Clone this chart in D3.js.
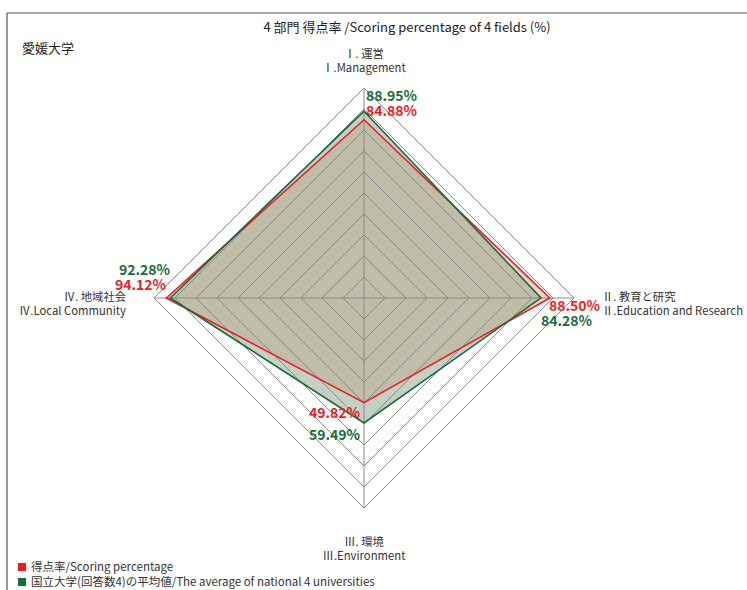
<!DOCTYPE html>
<html><head><meta charset="utf-8">
<script src="https://cdn.jsdelivr.net/npm/d3@7"></script>
<style>body{margin:0;background:#fff;} text{font-family:"Noto Sans CJK JP","Noto Sans",sans-serif;}</style>
</head><body>
<svg id="c" width="747" height="590"></svg>
<script>
const axesJa = ["Ⅰ. 運営", "Ⅱ. 教育と研究", "Ⅲ. 環境", "Ⅳ. 地域社会"];
const axesEn = ["Ⅰ.Management", "Ⅱ.Education and Research", "Ⅲ.Environment", "Ⅳ.Local Community"];
const scoring = [84.88, 88.50, 49.82, 94.12];
const average = [88.95, 84.28, 59.49, 92.28];
const ringTicks = [10,20,30,40,50,60,70,80,90,100];
const seriesNames = ["得点率/Scoring percentage", "国立大学(回答数4)の平均値/The average of national 4 universities"];
const titleText = "4 部門 得点率 /Scoring percentage of 4 fields (%)";
const univName = "愛媛大学";

const svg = d3.select("#c");
const cx = 364, cy = 298, R = 210;
const r = d3.scaleLinear().domain([0,100]).range([0,R]);
const ang = d3.scaleLinear().domain([0,4]).range([0, 2*Math.PI]);
const pt = (i,v)=>[cx + r(v)*Math.sin(ang(i)), cy - r(v)*Math.cos(ang(i))];
const red = "#ec1c24", green = "#1a6b3c";

// frame
svg.append("line").attr("x1",7).attr("y1",13).attr("x2",747).attr("y2",13).attr("stroke","#555").attr("stroke-width",1.2);
svg.append("line").attr("x1",7).attr("y1",13).attr("x2",7).attr("y2",590).attr("stroke","#555").attr("stroke-width",1.2);

svg.append("text").attr("x",407).attr("y",32).attr("text-anchor","middle").attr("font-size",13).attr("fill","#222").text(titleText);
svg.append("text").attr("x",22).attr("y",53).attr("font-size",13).attr("fill","#222").text(univName);

const line = d3.line().curve(d3.curveLinearClosed);
const poly = vals => line(vals.map((v,i)=>pt(i,v)));

// fills
svg.append("path").attr("d",poly(scoring)).attr("fill","rgb(232,140,95)").attr("fill-opacity",0.38);
svg.append("path").attr("d",poly(average)).attr("fill","rgb(145,170,145)").attr("fill-opacity",0.55);

// grid
const g = svg.append("g");
ringTicks.forEach(t=>{
  g.append("path").attr("d",line(d3.range(4).map(i=>pt(i,t)))).attr("fill","none").attr("stroke","#8a8a8a").attr("stroke-width",1);
});
d3.range(4).forEach(i=>{
  const p = pt(i,100);
  g.append("line").attr("x1",cx).attr("y1",cy).attr("x2",p[0]).attr("y2",p[1]).attr("stroke","#8a8a8a").attr("stroke-width",1);
});

// series lines
svg.append("path").attr("d",poly(scoring)).attr("fill","none").attr("stroke",red).attr("stroke-width",1.6);
svg.append("path").attr("d",poly(average)).attr("fill","none").attr("stroke",green).attr("stroke-width",1.6);

// axis labels
const lab = [
  {x:cx, y:58, a:"middle"},
  {x:602, y:301, a:"start"},
  {x:cx, y:546, a:"middle"},
  {x:126, y:301, a:"end"}
];
lab.forEach((l,i)=>{
  const t = svg.append("text").attr("x",l.x).attr("y",l.y).attr("text-anchor",l.a).attr("font-size",11.3).attr("fill","#333");
  t.append("tspan").attr("x",l.x).text(axesJa[i]);
  t.append("tspan").attr("x",l.x).attr("dy",14).text(axesEn[i]);
});

// value labels
const fmt = v=>v.toFixed(2)+"%";
const vl = [
  [{s:average,c:green,x:366,y:101,a:"start"},{s:scoring,c:red,x:366,y:116,a:"start"}],
  [{s:scoring,c:red,x:549,y:311,a:"start"},{s:average,c:green,x:541,y:326,a:"start"}],
  [{s:scoring,c:red,x:360,y:418,a:"end"},{s:average,c:green,x:360,y:440,a:"end"}],
  [{s:average,c:green,x:170,y:275,a:"end"},{s:scoring,c:red,x:166,y:290,a:"end"}]
];
vl.forEach((arr,i)=>arr.forEach(o=>{
  svg.append("text").attr("x",o.x).attr("y",o.y).attr("text-anchor",o.a).attr("font-size",14).attr("font-weight","bold").attr("fill",o.c).text(fmt(o.s[i]));
}));

// legend
[[red,0],[green,1]].forEach(([c,i])=>{
  svg.append("rect").attr("x",18).attr("y",563+i*15).attr("width",8).attr("height",8).attr("fill",c);
  svg.append("text").attr("x",31).attr("y",571+i*15).attr("font-size",11.5).attr("fill","#333").text(seriesNames[i]);
});
</script>
</body></html>
